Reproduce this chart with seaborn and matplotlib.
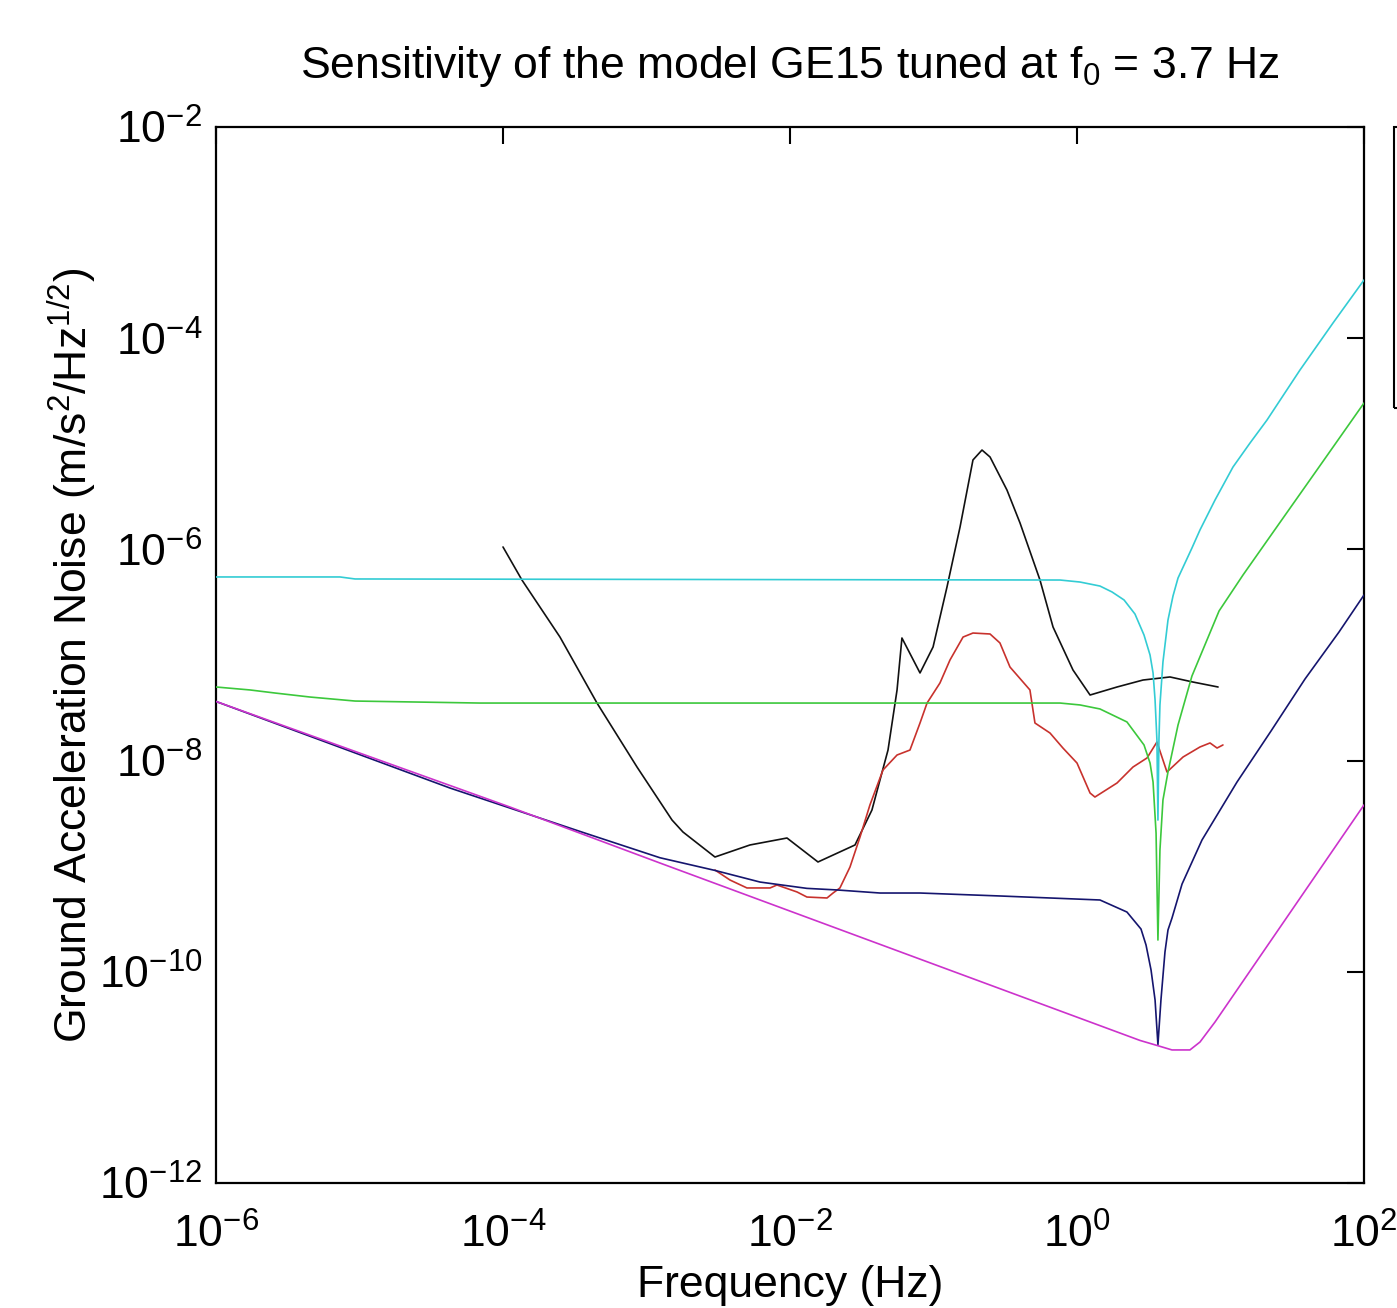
import numpy as np
import pandas as pd
import matplotlib
matplotlib.use("Agg")
import matplotlib.pyplot as plt
import seaborn as sns
from matplotlib.patches import Rectangle

# ---- data (log10 of frequency in Hz, log10 of ASD in m/s^2/Hz^0.5) ----
black_log_f = [-4.0, -3.868, -3.603, -3.345, -3.066, -2.822, -2.746, -2.523, -2.279, -2.021,
               -1.805, -1.547, -1.429, -1.317, -1.254, -1.220, -1.094, -1.003, -0.906, -0.815,
               -0.725, -0.662, -0.606, -0.488, -0.397, -0.258, -0.167, -0.028, 0.091, 0.279,
               0.460, 0.648, 0.808, 0.983]
black_log_a = [-5.977, -6.290, -6.830, -7.455, -8.061, -8.563, -8.676, -8.913, -8.799, -8.733,
               -8.960, -8.799, -8.468, -7.900, -7.331, -6.839, -7.170, -6.924, -6.356, -5.788,
               -5.153, -5.059, -5.125, -5.438, -5.750, -6.290, -6.735, -7.142, -7.379, -7.303,
               -7.237, -7.208, -7.256, -7.303]

red_log_f = [-2.523, -2.418, -2.300, -2.139, -2.091, -1.951, -1.882, -1.742, -1.700, -1.652,
             -1.582, -1.512, -1.443, -1.352, -1.254, -1.164, -1.094, -1.045, -0.955, -0.885,
             -0.794, -0.725, -0.606, -0.537, -0.467, -0.328, -0.293, -0.188, -0.098, 0.0,
             0.091, 0.125, 0.279, 0.390, 0.488, 0.557, 0.627, 0.739, 0.857, 0.927, 0.976, 1.017]
red_log_a = [-9.036, -9.131, -9.206, -9.206, -9.178, -9.244, -9.292, -9.301, -9.254, -9.206,
             -9.008, -8.723, -8.420, -8.089, -7.947, -7.900, -7.644, -7.455, -7.265, -7.047,
             -6.830, -6.792, -6.801, -6.886, -7.114, -7.331, -7.644, -7.739, -7.881, -8.023,
             -8.307, -8.345, -8.212, -8.061, -7.975, -7.824, -8.108, -7.966, -7.871, -7.833,
             -7.881, -7.852]

cyan_log_f = [-6.0, -5.136, -5.031, -0.118, 0.021, 0.160, 0.244, 0.328, 0.404, 0.467,
              0.509, 0.530, 0.544, 0.557, 0.564, 0.571, 0.578, 0.599, 0.634, 0.669,
              0.704, 0.801, 0.857, 0.962, 1.087, 1.206, 1.324, 1.554, 1.784, 2.0]
cyan_log_a = [-6.261, -6.261, -6.280, -6.290, -6.309, -6.347, -6.403, -6.479, -6.612, -6.811,
              -7.0, -7.170, -7.426, -7.805, -8.563, -7.805, -7.473, -7.066, -6.669, -6.441,
              -6.271, -5.987, -5.816, -5.532, -5.220, -4.992, -4.775, -4.301, -3.856, -3.449]

green_log_f = [-6.0, -5.763, -5.589, -5.345, -5.031, -4.160, -0.118, 0.021, 0.160, 0.348,
               0.467, 0.509, 0.530, 0.551, 0.564, 0.578, 0.599, 0.634, 0.704, 0.801,
               0.990, 1.157, 1.436, 1.672, 2.0]
green_log_a = [-7.303, -7.331, -7.360, -7.398, -7.436, -7.455, -7.455, -7.473, -7.511, -7.634,
               -7.852, -8.023, -8.203, -8.686, -9.699, -8.847, -8.373, -8.108, -7.663, -7.199,
               -6.583, -6.242, -5.703, -5.248, -4.614]

navy_log_f = [-6.0, -4.369, -3.443, -2.906, -2.523, -2.209, -1.882, -1.672, -1.373, -1.094,
              -0.537, -0.188, 0.160, 0.348, 0.446, 0.481, 0.516, 0.544, 0.564, 0.585,
              0.613, 0.634, 0.662, 0.732, 0.871, 1.115, 1.352, 1.589, 1.826, 2.0]
navy_log_a = [-7.44, -8.26, -8.68, -8.92, -9.04, -9.15, -9.21, -9.225, -9.254, -9.254,
              -9.282, -9.301, -9.320, -9.434, -9.595, -9.746, -9.983, -10.267, -10.69, -10.267,
              -9.813, -9.604, -9.491, -9.169, -8.752, -8.203, -7.720, -7.227, -6.782, -6.432]

magenta_log_f = [-6.0, -3.951, -2.906, 0.439, 0.564, 0.662, 0.787, 0.857, 0.962, 2.0]
magenta_log_a = [-7.44, -8.44, -8.97, -10.65, -10.70, -10.74, -10.74, -10.665, -10.475, -8.42]

x_ticks = [1e-6, 1e-4, 1e-2, 1e0, 1e2]
y_ticks = [1e-12, 1e-10, 1e-8, 1e-6, 1e-4, 1e-2]

title_text = "Sensitivity of the model GE15 tuned at f$_0$ = 3.7 Hz"
xlabel_text = "Frequency (Hz)"
ylabel_text = "Ground Acceleration Noise (m/s$^2$/Hz$^{1/2}$)"

# ---- style ----
sns.set_theme(style="white")
plt.rcParams["font.family"] = ["Liberation Sans", "DejaVu Sans"]
plt.rcParams["mathtext.fontset"] = "custom"
plt.rcParams["mathtext.rm"] = "Liberation Sans"
plt.rcParams["mathtext.it"] = "Liberation Sans:italic"
plt.rcParams["mathtext.bf"] = "Liberation Sans:bold"
plt.rcParams["axes.unicode_minus"] = False

W, H = 1397, 1308
fig = plt.figure(figsize=(W / 100, H / 100), dpi=100, facecolor="white")
ax = fig.add_axes([216 / W, 1 - 1183 / H, (1364 - 216) / W, (1183 - 127) / H])

series = [
    ("black", black_log_f, black_log_a, "#111111", 2),
    ("red", red_log_f, red_log_a, "#C8322D", 3),
    ("navy", navy_log_f, navy_log_a, "#15156E", 4),
    ("magenta", magenta_log_f, magenta_log_a, "#CC33CC", 5),
    ("green", green_log_f, green_log_a, "#3CC83C", 6),
    ("cyan", cyan_log_f, cyan_log_a, "#33CCD4", 7),
]
for name, lf, la, col, z in series:
    d = pd.DataFrame({"f": np.power(10.0, lf), "a": np.power(10.0, la)})
    sns.lineplot(data=d, x="f", y="a", ax=ax, color=col, lw=1.2,
                 estimator=None, sort=False, zorder=z)

ax.set_xscale("log")
ax.set_yscale("log")
ax.set_xlim(1e-6, 1e2)
ax.set_ylim(1e-12, 1e-2)
ax.set_xticks(x_ticks)
ax.set_yticks(y_ticks)
ax.minorticks_off()
ax.tick_params(which="both", direction="in", top=True, right=True, length=12,
               width=1.5, labelsize=32, colors="black")
ax.tick_params(axis="x", pad=22)
ax.tick_params(axis="y", pad=10)
for s in ax.spines.values():
    s.set_color("black")
    s.set_linewidth(1.6)

ax.set_xlabel(xlabel_text, fontsize=32, labelpad=6, color="black")
ax.set_ylabel(ylabel_text, fontsize=32, labelpad=0, color="black")
fig.text(790 / W, 1 - 78 / H, title_text, ha="center", va="baseline",
         fontsize=32, color="black")

# partially visible legend frame at the right edge
fig.patches.append(Rectangle((1394 / W, 1 - 408 / H), 0.05, (408 - 127) / H,
                             transform=fig.transFigure, fill=False,
                             ec="black", lw=1.5))

fig.savefig("out.png", dpi=100, facecolor="white")
